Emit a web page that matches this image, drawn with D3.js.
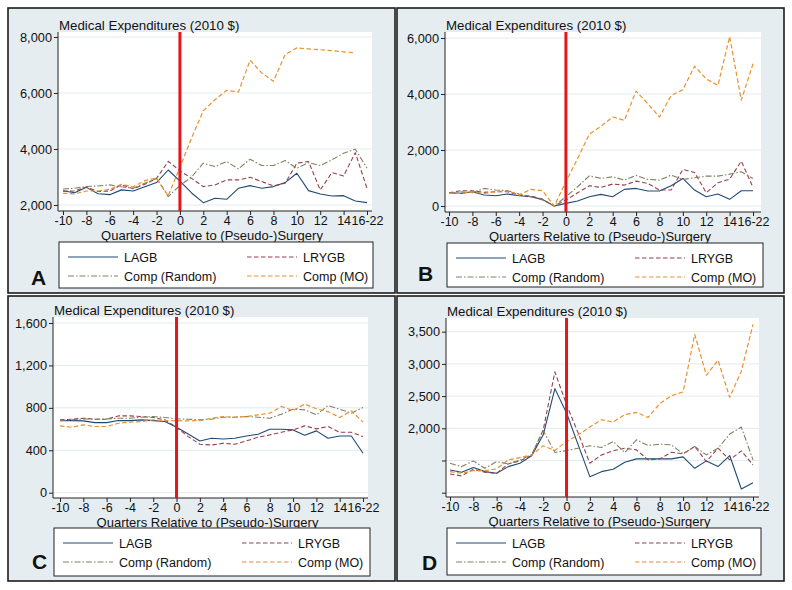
<!DOCTYPE html>
<html><head><meta charset="utf-8">
<script src="https://cdn.jsdelivr.net/npm/d3@7"></script>
<style>
body{margin:0;background:#fff}
svg{display:block}
text{font-family:"Liberation Sans",Arial,Helvetica,sans-serif;fill:#111}
</style>
</head><body>
<svg id="chart" width="792" height="590"></svg>
<script>
// ---------------- DATA ----------------
const quarters = [-10,-9,-8,-7,-6,-5,-4,-3,-2,-1,0,1,2,3,4,5,6,7,8,9,10,11,12,13,14,15,16];
const xTickValues = [-10,-8,-6,-4,-2,0,2,4,6,8,10,12,14,16];
const xTickLabels = ["-10","-8","-6","-4","-2","0","2","4","6","8","10","12","14","16-22"];
const seriesNames = ["LAGB","LRYGB","Comp (Random)","Comp (MO)"];
const panelLetters = ["A","B","C","D"];
const yTitle = "Medical Expenditures (2010 $)";
const xTitle = "Quarters Relative to (Pseudo-)Surgery";

// Panel A
const aYTicks = [2000,4000,6000,8000];
const aLAGB   = [2510,2440,2630,2400,2370,2540,2500,2650,2800,3250,2850,2430,2084,2239,2203,2597,2693,2597,2657,2800,3134,2513,2394,2322,2334,2143,2084];
const aLRYGB  = [2490,2500,2640,2480,2500,2720,2580,2740,2950,3560,3220,2950,2657,2716,2896,2896,2991,2836,2680,2776,3493,3552,2537,3158,3039,3870,2597];
const aRandom = [2570,2600,2660,2680,2720,2650,2600,2780,2950,2300,2700,3000,3493,3373,3552,3290,3636,3409,3409,3588,3313,3516,3409,3612,3851,3994,3313];
const aMO     = [2420,2400,2500,2500,2560,2740,2650,2870,2960,2330,3350,4400,5367,5761,6096,6036,7170,6716,6418,7373,7612,7576,7545,7510,7470,7433,null];

// Panel B
const bYTicks = [0,2000,4000,6000];
const bLAGB   = [474,451,510,391,368,427,368,332,237,0,95,178,332,415,332,593,628,534,534,723,984,569,332,427,237,545,545];
const bLRYGB  = [474,545,545,486,510,510,391,356,237,0,213,470,723,664,783,747,889,806,569,569,1304,1198,474,830,960,1601,664];
const bRandom = [451,510,474,628,569,545,427,332,213,0,332,688,1079,984,1043,925,1091,949,925,1103,949,1008,1067,1067,1138,1221,984];
const bMO     = [451,451,510,451,510,545,391,593,545,0,866,1700,2561,2846,3178,3059,4103,3652,3178,3949,4150,4992,4542,4305,6050,3780,5080];

// Panel C
const cYTicks = [0,400,800,1200,1600];
const cLAGB   = [680,680,677,661,661,680,680,687,680,671,617,554,488,513,507,513,535,551,598,598,592,542,583,513,535,535,372];
const cLRYGB  = [687,693,702,693,693,724,724,718,709,687,617,529,457,450,466,457,488,523,545,570,592,630,602,624,570,570,529];
const cRandom = [680,687,696,693,696,702,702,712,718,709,696,693,687,693,712,712,718,712,702,740,787,781,734,822,787,750,803];
const cMO     = [630,617,639,624,624,655,665,671,687,680,677,677,680,702,718,712,718,734,750,813,775,835,791,765,709,772,665];

// Panel D
const dYTicks = [1000,1500,2000,2500,3000,3500];
const dYLabels = [2000,2500,3000,3500];
const dLAGB   = [1353,1317,1390,1327,1301,1405,1457,1572,1899,2616,2237,1743,1249,1327,1364,1473,1525,1525,1525,1525,1556,1379,1494,1405,1577,1057,1156];
const dLRYGB  = [1291,1260,1364,1317,1301,1447,1494,1577,1977,2876,2367,1925,1457,1587,1650,1691,1665,1509,1525,1629,1603,1717,1483,1691,1509,1650,1431];
const dRandom = [1457,1405,1494,1379,1483,1447,1509,1587,1967,1624,1655,1691,1728,1702,1795,1624,1821,1733,1754,1743,1603,1717,1587,1691,1910,2019,1509];
const dMO     = [1327,1301,1343,1343,1369,1509,1546,1587,1728,1655,1795,1899,2019,2133,2097,2211,2247,2169,2383,2507,2564,3458,2824,3058,2481,2887,3614];

// ---------------- LAYOUT / STYLE ----------------
const styles = [
  {color:"#1f4a74", dash:null,      width:1.1},
  {color:"#94404a", dash:"4.5,2.5", width:1.1},
  {color:"#7d8460", dash:"6,2,1.5,2", width:1.1},
  {color:"#e8922e", dash:"4.5,2.5", width:1.2}
];
const panels = [
  {box:[8,8,395,293],   plot:{l:58,r:372,t:32,b:211},  xr:[63,367],  yDomain:[2000,8000], yRange:[205,37],     ticks:aYTicks, labels:aYTicks, data:[aLAGB,aLRYGB,aRandom,aMO], legend:[59,242,373,288],  letter:[31,285]},
  {box:[397,8,784,293], plot:{l:445,r:761,t:32,b:212}, xr:[449,753], yDomain:[0,6000],    yRange:[206,38],     ticks:bYTicks, labels:bYTicks, data:[bLAGB,bLRYGB,bRandom,bMO], legend:[447,243,763,287], letter:[418,281]},
  {box:[8,296,395,581], plot:{l:53,r:368,t:317,b:498}, xr:[60,363],  yDomain:[0,1600],    yRange:[492.7,323],  ticks:cYTicks, labels:cYTicks, data:[cLAGB,cLRYGB,cRandom,cMO], legend:[54,528,370,576],  letter:[32,569]},
  {box:[397,296,784,581],plot:{l:446,r:759,t:318,b:497},xr:[450,753], yDomain:[1000,3500], yRange:[492.7,331.7],ticks:dYTicks, labels:dYLabels,data:[dLAGB,dLRYGB,dRandom,dMO], legend:[447,528,761,575], letter:[422,570]}
];

const svg = d3.select("#chart");
const fmt = d3.format(",");
const FONT = '"Liberation Sans",Arial,sans-serif';

panels.forEach((p, pi) => {
  const g = svg.append("g");
  const [bx0,by0,bx1,by1] = p.box;
  g.append("rect").attr("x",bx0).attr("y",by0).attr("width",bx1-bx0).attr("height",by1-by0)
    .attr("fill","#e6edf1").attr("stroke","#1c1c1c").attr("stroke-width",1.6);
  const P = p.plot;
  g.append("rect").attr("x",P.l).attr("y",P.t).attr("width",P.r-P.l).attr("height",P.b-P.t).attr("fill","#ffffff");

  const x = d3.scaleLinear().domain([-10,16]).range(p.xr);
  const y = d3.scaleLinear().domain(p.yDomain).range(p.yRange);

  // gridlines
  g.selectAll(".grid").data(p.ticks).join("line")
    .attr("x1",P.l).attr("x2",P.r).attr("y1",d=>y(d)).attr("y2",d=>y(d))
    .attr("stroke","#e3ebee").attr("stroke-width",1);

  // y axis
  const yAxis = d3.axisLeft(y).tickValues(p.ticks).tickSize(4).tickPadding(2)
    .tickFormat(d => p.labels.includes(d) ? fmt(d) : "");
  const ya = g.append("g").attr("transform",`translate(${P.l},0)`).call(yAxis);
  ya.select(".domain").remove();
  ya.append("line").attr("x1",0).attr("x2",0).attr("y1",P.t).attr("y2",P.b).attr("stroke","#222").attr("stroke-width",1);
  ya.selectAll(".tick line").attr("stroke","#222");
  ya.selectAll(".tick text").attr("font-size","12.8px").attr("fill","#111").style("font-family",FONT);

  // x axis
  const xAxis = d3.axisBottom(x).tickValues(xTickValues).tickSize(4).tickPadding(1)
    .tickFormat(d => xTickLabels[xTickValues.indexOf(d)]);
  const xa = g.append("g").attr("transform",`translate(0,${P.b})`).call(xAxis);
  xa.select(".domain").remove();
  xa.append("line").attr("x1",P.l).attr("x2",P.r).attr("y1",0).attr("y2",0).attr("stroke","#222").attr("stroke-width",1);
  xa.selectAll(".tick line").attr("stroke","#222");
  xa.selectAll(".tick text").attr("font-size","12.5px").attr("fill","#111").style("font-family",FONT);

  // titles
  g.append("text").attr("x",P.l+1).attr("y",P.t-2).attr("font-size","13.3px").text(yTitle);
  g.append("text").attr("x",(P.l+P.r)/2-3).attr("y",P.b+28.5).attr("text-anchor","middle").attr("font-size","13px").text(xTitle);

  // series lines
  const line = d3.line().defined(d => d != null).x((d,i) => x(quarters[i])).y(d => y(d));
  p.data.forEach((s, si) => {
    const st = styles[si];
    g.append("path").datum(s).attr("d", line).attr("fill","none")
      .attr("stroke",st.color).attr("stroke-width",st.width)
      .attr("stroke-dasharray",st.dash).attr("stroke-linejoin","round");
  });

  // red reference line at 0
  g.append("line").attr("x1",x(0)).attr("x2",x(0)).attr("y1",P.t).attr("y2",P.b)
    .attr("stroke","#e3161b").attr("stroke-width",3);

  // legend
  const [lx0,ly0,lx1,ly1] = p.legend;
  g.append("rect").attr("x",lx0).attr("y",ly0).attr("width",lx1-lx0).attr("height",ly1-ly0)
    .attr("fill","#fff").attr("stroke","#222").attr("stroke-width",1);
  seriesNames.forEach((name, si) => {
    const col = si % 2, row = Math.floor(si/2);
    const yy = ly0 + 15 + row*19;
    const sx = lx0 + (col===0 ? 9 : 188);
    const st = styles[si];
    g.append("line").attr("x1",sx).attr("x2",sx+50).attr("y1",yy).attr("y2",yy)
      .attr("stroke",st.color).attr("stroke-width",st.width).attr("stroke-dasharray",st.dash);
    g.append("text").attr("x",sx+56).attr("y",yy+4.5).attr("font-size","12.5px").text(name);
  });

  // panel letter
  g.append("text").attr("x",p.letter[0]).attr("y",p.letter[1]).attr("font-size","21px")
    .attr("font-weight","bold").text(panelLetters[pi]);
});
</script>
</body></html>
